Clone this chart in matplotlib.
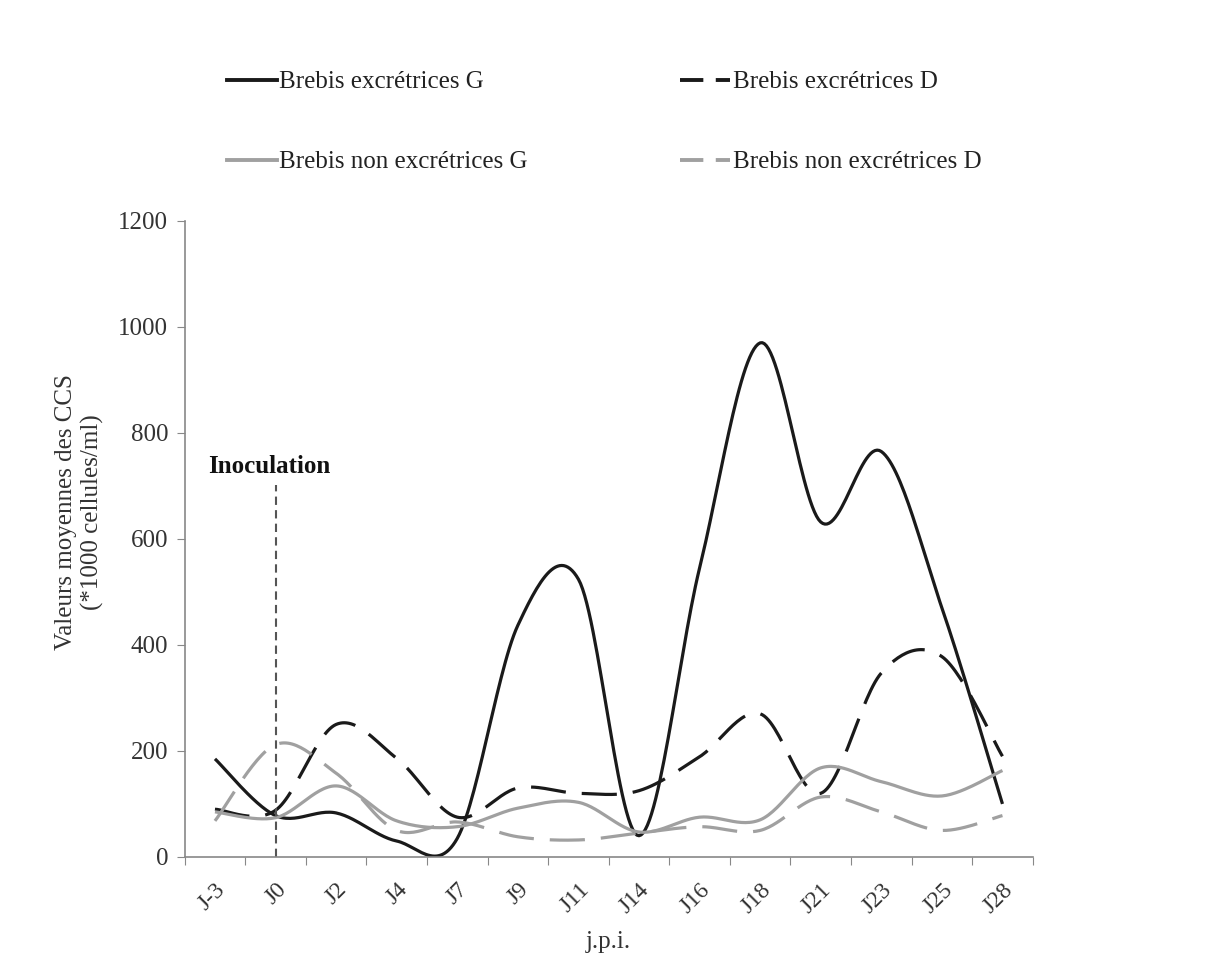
import numpy as np
import matplotlib
matplotlib.use("Agg")
import matplotlib.pyplot as plt
from matplotlib.lines import Line2D

categories = ["J-3", "J0", "J2", "J4", "J7", "J9", "J11", "J14", "J16", "J18", "J21", "J23", "J25", "J28"]
excr_G = [185, 78, 83, 30, 35, 437, 524, 40, 545, 970, 632, 765, 470, 100]
excr_D = [90, 88, 250, 186, 75, 130, 120, 125, 189, 270, 120, 347, 378, 190]
nonexcr_G = [85, 74, 134, 68, 57, 92, 103, 47, 75, 70, 168, 142, 115, 163]
nonexcr_D = [68, 212, 158, 50, 66, 38, 32, 45, 57, 50, 113, 85, 50, 78]
labels = ["Brebis excrétrices G", "Brebis excrétrices D",
          "Brebis non excrétrices G", "Brebis non excrétrices D"]

plt.rcParams['font.family'] = ['Liberation Serif', 'DejaVu Serif']


def smooth(x, y, n=30):
    # Excel-like smoothed line (Bezier through the points)
    x = np.asarray(x, float)
    y = np.asarray(y, float)
    px = np.concatenate([[x[0]], x, [x[-1]]])
    py = np.concatenate([[y[0]], y, [y[-1]]])
    xs, ys = [], []
    for i in range(1, len(px) - 2):
        p0, p1, p2, p3 = [np.array([px[j], py[j]]) for j in (i - 1, i, i + 1, i + 2)]
        c1 = p1 + (p2 - p0) / 6.0
        c2 = p2 - (p3 - p1) / 6.0
        t = np.linspace(0, 1, n)[:, None]
        b = (1 - t) ** 3 * p1 + 3 * (1 - t) ** 2 * t * c1 + 3 * (1 - t) * t ** 2 * c2 + t ** 3 * p2
        xs.append(b[:, 0])
        ys.append(b[:, 1])
    return np.concatenate(xs), np.concatenate(ys)


fig = plt.figure(figsize=(12.15, 9.65), dpi=100)
ax = fig.add_axes([0.152, 0.112, 0.698, 0.659])

x = np.arange(len(categories))
dash = (0, (11, 5))
styles = [
    dict(color="#1a1a1a", ls="-"),
    dict(color="#1a1a1a", ls=dash),
    dict(color="#a0a0a0", ls="-"),
    dict(color="#a0a0a0", ls=dash),
]
series = [excr_G, excr_D, nonexcr_G, nonexcr_D]
for s, st in zip(series, styles):
    sx, sy = smooth(x, s)
    ax.plot(sx, sy, color=st["color"], linestyle=st["ls"], lw=2.3, solid_capstyle="butt")

# inoculation marker
ax.plot([x[1], x[1]], [0, 702], color="#555555", lw=1.5, linestyle=(0, (4, 2.5)))
ax.text(x[1] - 0.1, 715, "Inoculation", ha="center", va="bottom", fontsize=18, fontweight="bold", color="#111111")

ax.set_xlim(-0.5, len(categories) - 0.5)
ax.set_ylim(0, 1200)
ax.set_yticks(np.arange(0, 1201, 200))
ax.set_xticks(np.arange(-0.5, len(categories), 1.0), minor=False)
ax.set_xticklabels([])
ax.set_xticks(x, minor=True)
ax.set_xticklabels(categories, minor=True, rotation=45, ha="right", va="top", rotation_mode="anchor")
ax.tick_params(axis="x", which="minor", length=0, pad=16, labelsize=17, labelcolor="#333333")
ax.tick_params(axis="x", which="major", length=6, color="#888888", direction="out")
ax.tick_params(axis="y", length=6, color="#888888", labelsize=18, labelcolor="#333333", pad=6)
for side in ["top", "right"]:
    ax.spines[side].set_visible(False)
for side in ["left", "bottom"]:
    ax.spines[side].set_color("#888888")
    ax.spines[side].set_linewidth(1.2)

ax.set_xlabel("j.p.i.", fontsize=18, color="#333333", labelpad=10)
ax.set_ylabel("Valeurs moyennes des CCS\n(*1000 cellules/ml)", fontsize=18, color="#333333", linespacing=1.2)
ax.yaxis.set_label_coords(-0.095, 0.542)

leg_dash = (0, (6, 3.2))
handles = [Line2D([], [], color=st["color"], linestyle=(st["ls"] if st["ls"] == "-" else leg_dash), lw=2.8)
           for st in styles]
order = [0, 2, 1, 3]
leg = fig.legend([handles[i] for i in order], [labels[i] for i in order], ncol=2, loc="upper left",
                 bbox_to_anchor=(0.168, 0.950),
                 frameon=False, fontsize=18, handlelength=2.0, handletextpad=0.1,
                 columnspacing=6.1, labelspacing=2.3)
for t in leg.get_texts():
    t.set_color("#222222")

fig.savefig("out.png", dpi=100, facecolor="white")
